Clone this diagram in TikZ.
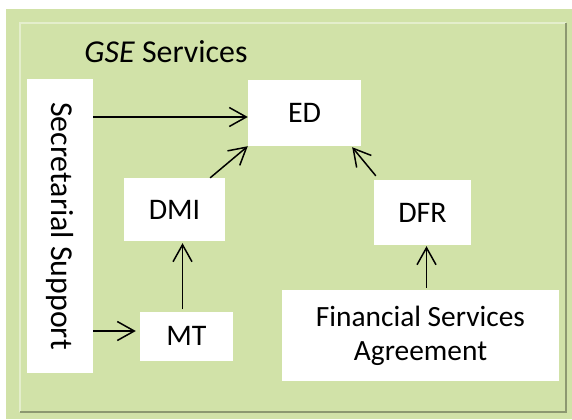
\documentclass[tikz,border=0pt]{standalone}
\usepackage{fontspec}
\setmainfont{Carlito}
\usetikzlibrary{arrows.meta}
\definecolor{panel}{RGB}{209,226,168}
\definecolor{panelhi}{RGB}{228,238,204}
\definecolor{panello}{RGB}{140,152,112}

\begin{document}
\begin{tikzpicture}[
        x=1bp, y=-1bp,
        font=\fontsize{30}{33}\selectfont,
        box/.style={
            fill=white,
            inner sep=0pt,
            align=center
        },
        arr/.style={
            -{Straight Barb[length=17bp,width=19bp,line width=1.5bp]},
            line width=1.5bp
        }
    ]
    \useasboundingbox (0,0) rectangle (572,419);

    % frame
    \fill[panel] (6,9) rectangle (572,419);
    \draw[panelhi, line width=1.5bp] (20,412) -- (20,23) -- (566,23);
    \draw[panello, line width=1.5bp] (566,23) -- (566,412) -- (20,412);

    \node[anchor=base, font=\fontsize{32}{36}\selectfont] (title) at (166,62) {\textit{GSE} Services};

    % boxes
    \node[box, rotate=-90, minimum width=294bp, minimum height=66bp,
        font=\fontsize{32}{36}\selectfont] (ss) at (60,226) {Secretarial Support};
    \node[box, minimum width=113bp, minimum height=66bp] (ed) at (304.5,113) {ED};
    \node[box, minimum width=101bp, minimum height=63bp] (dmi) at (174.5,209.5) {DMI};
    \node[box, minimum width=93bp, minimum height=49bp] (mt) at (186.5,336) {MT};
    \node[box, minimum width=97bp, minimum height=65bp] (dfr) at (422.5,212.5) {DFR};
    \node[box, minimum width=277bp, minimum height=91bp,
        font=\fontsize{29.5}{34}\selectfont] (fsa) at (420.5,335.5) {Financial Services\\Agreement};

    % arrows
    \draw[arr] ([yshift=-4bp]ss.north |- ed.west) -- ([yshift=-4bp]ed.west);
    \draw[arr] ([yshift=5bp]ss.north |- mt.west) -- ([xshift=-4bp,yshift=5bp]mt.west);
    \draw[arr] ([xshift=-4bp,yshift=2bp]mt.north) -- ([xshift=-4bp,yshift=-2bp]mt.north |- dmi.south);
    \draw[arr] ([xshift=-15bp]dmi.north east) -- (ed.south west);
    \draw[arr] ([xshift=2bp,yshift=4bp]dfr.north west) -- ([xshift=-9bp,yshift=-1bp]ed.south east);
    \draw[arr] ([xshift=4bp,yshift=2bp]dfr.south |- fsa.north) -- ([xshift=4bp,yshift=-1bp]dfr.south);
\end{tikzpicture}
\end{document}
